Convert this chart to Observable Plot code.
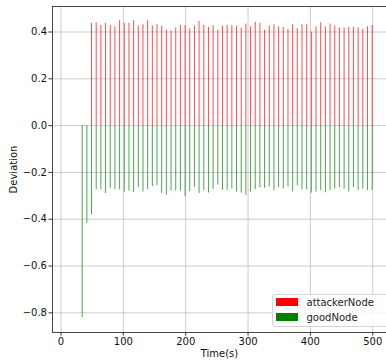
<!DOCTYPE html>
<html>
<head>
<meta charset="utf-8">
<script src="https://cdn.jsdelivr.net/npm/d3@7"></script>
<script src="https://cdn.jsdelivr.net/npm/@observablehq/plot@0.6"></script>
<style>
  html, body { margin: 0; padding: 0; background: #fff; overflow: hidden; }
  #wrap { position: relative; width: 386px; height: 360px; font-family: "DejaVu Sans", sans-serif; }
  #legend { position: absolute; left: 271.5px; top: 293.5px; width: 120px; height: 33px;
    border: 1px solid #d5d5d5; border-radius: 3px; background: rgba(255,255,255,0.85); box-sizing: border-box; }
  .item { position: absolute; left: 3px; height: 14px; font-size: 10px; line-height: 14px; color: #222; white-space: nowrap; }
  .sw { display: inline-block; width: 22px; height: 8px; vertical-align: middle; margin-right: 9px; position: relative; top: -1px; }
</style>
</head>
<body>
<div id="wrap"></div>
<script>
const times = [34, 41.5, 49, 56.5, 64, 71.5, 79, 86.5, 94, 101.5, 109, 116.5, 124, 131.5, 139, 146.5,
  154, 161.5, 169, 176.5, 184, 191.5, 199, 206.5, 214, 221.5, 229, 236.5, 244, 251.5, 259, 266.5,
  274, 281.5, 289, 296.5, 304, 311.5, 319, 326.5, 334, 341.5, 349, 356.5, 364, 371.5, 379, 386.5,
  394, 401.5, 409, 416.5, 424, 431.5, 439, 446.5, 454, 461.5, 469, 476.5, 484, 491.5, 499];
const attackerTimes = times.slice(2);
const attackerValues = [0.437, 0.439, 0.428, 0.437, 0.428, 0.422, 0.448, 0.437, 0.437, 0.448, 0.425,
  0.431, 0.448, 0.425, 0.431, 0.425, 0.408, 0.405, 0.417, 0.428, 0.428, 0.414, 0.425, 0.445, 0.428,
  0.420, 0.428, 0.408, 0.425, 0.428, 0.428, 0.425, 0.417, 0.434, 0.422, 0.442, 0.437, 0.408, 0.425,
  0.431, 0.422, 0.420, 0.411, 0.431, 0.414, 0.431, 0.431, 0.400, 0.422, 0.439, 0.422, 0.434, 0.425,
  0.417, 0.417, 0.420, 0.420, 0.417, 0.411, 0.422, 0.428];
const goodValues = [-0.82, -0.417, -0.381, -0.274, -0.274, -0.29, -0.268, -0.274, -0.274, -0.284,
  -0.28, -0.286, -0.264, -0.283, -0.274, -0.261, -0.257, -0.29, -0.297, -0.279, -0.279, -0.28, -0.304,
  -0.283, -0.264, -0.29, -0.277, -0.288, -0.273, -0.254, -0.277, -0.277, -0.271, -0.284, -0.288,
  -0.298, -0.284, -0.274, -0.265, -0.268, -0.262, -0.279, -0.265, -0.271, -0.262, -0.283, -0.257,
  -0.274, -0.274, -0.288, -0.284, -0.277, -0.287, -0.277, -0.271, -0.265, -0.271, -0.284, -0.265,
  -0.277, -0.271, -0.277, -0.277];
const xTicks = [0, 100, 200, 300, 400, 500];
const yTicks = [-0.8, -0.6, -0.4, -0.2, 0.0, 0.2, 0.4];
const xDomain = [-13.6, 522];
const yDomain = [-0.884, 0.509];
const seriesNames = ["attackerNode", "goodNode"];
const seriesColors = ["#ff0000", "#008000"];

const attacker = attackerTimes.map((t, i) => ({t, v: attackerValues[i]}));
const good = times.map((t, i) => ({t, v: goodValues[i]}));

const chart = Plot.plot({
  width: 386,
  height: 360,
  marginLeft: 52,
  marginRight: 0,
  marginTop: 6,
  marginBottom: 28,
  style: {fontFamily: "DejaVu Sans", fontSize: "10px", color: "#111", background: "#fff"},
  x: {domain: xDomain},
  y: {domain: yDomain},
  marks: [
    Plot.ruleX(xTicks, {stroke: "#b0b0b0", strokeWidth: 0.8, strokeOpacity: 0.8}),
    Plot.ruleY(yTicks, {stroke: "#b0b0b0", strokeWidth: 0.8, strokeOpacity: 0.8}),
    Plot.ruleX(good, {x: "t", y1: 0, y2: "v", stroke: seriesColors[1], strokeOpacity: 0.7, strokeWidth: 1}),
    Plot.ruleX(attacker, {x: "t", y1: 0, y2: "v", stroke: seriesColors[0], strokeOpacity: 0.7, strokeWidth: 1}),
    Plot.ruleX([xDomain[0]], {stroke: "#333", strokeWidth: 0.9}),
    Plot.ruleY([yDomain[0]], {stroke: "#333", strokeWidth: 0.9}),
    Plot.ruleY([yDomain[1]], {stroke: "#333", strokeWidth: 0.9}),
    Plot.axisX({ticks: xTicks, tickSize: 3.5, tickPadding: 2, tickFormat: d3.format("d"), label: null, fontSize: 10, stroke: "#333"}),
    Plot.axisY({ticks: yTicks, tickSize: 3.5, tickPadding: 2, tickFormat: d3.format(".1f"), label: null, fontSize: 10, stroke: "#333"}),
    Plot.text(["Time(s)"], {frameAnchor: "bottom", dy: 21, lineAnchor: "middle", fontSize: 10, fill: "#111"}),
    Plot.text(["Deviation"], {frameAnchor: "left", dx: -39, rotate: -90, textAnchor: "middle", fontSize: 10, fill: "#111"})
  ]
});
const wrap = document.getElementById("wrap");
wrap.appendChild(chart);

const legend = document.createElement("div");
legend.id = "legend";
seriesNames.forEach((name, i) => {
  const it = document.createElement("div");
  it.className = "item";
  it.style.top = (i === 0 ? 1.5 : 16) + "px";
  const sw = document.createElement("span");
  sw.className = "sw";
  sw.style.background = seriesColors[i];
  it.appendChild(sw);
  it.appendChild(document.createTextNode(name));
  legend.appendChild(it);
});
wrap.appendChild(legend);
</script>
</body>
</html>
